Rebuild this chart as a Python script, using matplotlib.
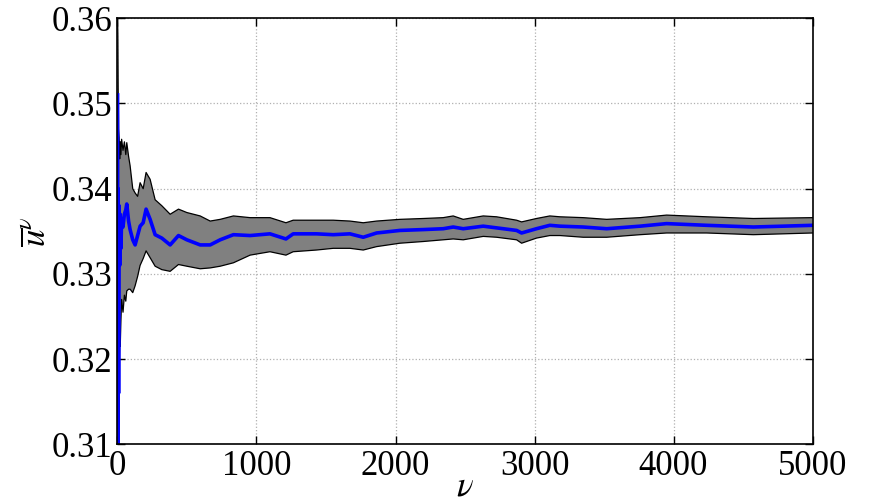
import matplotlib
matplotlib.use('Agg')
import matplotlib.pyplot as plt

nu = [1, 3, 5, 8, 12, 16, 20, 25, 30, 40, 50, 60, 67, 80, 91, 110, 127, 145,
      163, 185, 206, 235, 271, 319, 379, 439, 499, 595, 667, 739, 834, 954,
      1097, 1212, 1264, 1432, 1552, 1672, 1768, 1864, 2032, 2200, 2343, 2415,
      2487, 2631, 2727, 2871, 2907, 3014, 3110, 3183, 3350, 3519, 3759, 3950,
      4238, 4574, 5000]

# running mean
u_mean = [0.3510, 0.3050, 0.3400, 0.3160, 0.3380, 0.3310, 0.3370, 0.3330,
          0.3365, 0.3355, 0.3370, 0.3375, 0.3382, 0.3362, 0.3352, 0.3340,
          0.3334, 0.3345, 0.3356, 0.3360, 0.3376, 0.3364, 0.3346, 0.3342,
          0.3334, 0.3345, 0.3340, 0.3334, 0.3334, 0.3340, 0.3346, 0.3345,
          0.3347, 0.3341, 0.3347, 0.3347, 0.3346, 0.3347, 0.3343, 0.3348,
          0.3351, 0.3352, 0.3353, 0.3355, 0.3353, 0.3356, 0.3354, 0.3351,
          0.3348, 0.3353, 0.3357, 0.3356, 0.3355, 0.3353, 0.3356, 0.3359,
          0.3357, 0.3355, 0.3357]

# upper / lower confidence bounds
u_upper = [0.3600, 0.3580, 0.3520, 0.3470, 0.3460, 0.3435, 0.3455, 0.3440,
           0.3458, 0.3445, 0.3455, 0.3440, 0.3454, 0.3438, 0.3427, 0.3400,
           0.3395, 0.3391, 0.3407, 0.3400, 0.3419, 0.3411, 0.3387, 0.3380,
           0.3370, 0.3376, 0.3372, 0.3368, 0.3362, 0.3364, 0.3368, 0.3366,
           0.3366, 0.3360, 0.3363, 0.3363, 0.3363, 0.3362, 0.3360, 0.3362,
           0.3364, 0.3365, 0.3366, 0.3368, 0.3364, 0.3368, 0.3367, 0.3363,
           0.3361, 0.3365, 0.3368, 0.3367, 0.3366, 0.3364, 0.3366, 0.3369,
           0.3367, 0.3365, 0.3366]

u_lower = [0.3000, 0.3000, 0.3050, 0.3120, 0.3186, 0.3225, 0.3215, 0.3245,
           0.3270, 0.3255, 0.3275, 0.3268, 0.3280, 0.3282, 0.3282, 0.3278,
           0.3286, 0.3297, 0.3310, 0.3318, 0.3327, 0.3319, 0.3309, 0.3305,
           0.3303, 0.3311, 0.3309, 0.3306, 0.3307, 0.3309, 0.3313, 0.3322,
           0.3326, 0.3322, 0.3326, 0.3328, 0.3330, 0.3330, 0.3328, 0.3332,
           0.3336, 0.3338, 0.3340, 0.3341, 0.3340, 0.3344, 0.3343, 0.3340,
           0.3336, 0.3342, 0.3345, 0.3345, 0.3343, 0.3343, 0.3346, 0.3348,
           0.3348, 0.3346, 0.3348]

x_ticks = [0, 1000, 2000, 3000, 4000, 5000]
y_ticks = [0.31, 0.32, 0.33, 0.34, 0.35, 0.36]

plt.rcParams['font.family'] = ['Liberation Serif', 'DejaVu Serif']
plt.rcParams['mathtext.fontset'] = 'stix'

fig = plt.figure(figsize=(8.7, 5.03), dpi=100)
ax = fig.add_axes([0.135, 0.1167, 0.799, 0.847])

ax.fill_between(nu, u_lower, u_upper, color='#808080', linewidth=0, zorder=2)
ax.plot(nu, u_upper, color='black', linewidth=0.9, zorder=3)
ax.plot(nu, u_lower, color='black', linewidth=0.9, zorder=3)
ax.plot(nu, u_mean, color='#0000ff', linewidth=2.6, zorder=4)

ax.set_xlim(0, 5000)
ax.set_ylim(0.31, 0.36)
ax.set_xticks(x_ticks)
ax.set_yticks(y_ticks)
ax.set_xticklabels([str(t) for t in x_ticks])
ax.set_yticklabels(['%.2f' % t for t in y_ticks])

ax.grid(True, linestyle=':', color='#b0b0b0', linewidth=0.9, zorder=0)
ax.set_axisbelow(True)
ax.tick_params(direction='in', length=6, width=1, top=True, right=True,
               labelsize=25, pad=4)
for s in ax.spines.values():
    s.set_linewidth(1.2)
    s.set_zorder(5)

ax.set_xlabel(r'$\nu$', fontsize=25, labelpad=-9)
ax.set_ylabel(r'$\overline{u}^{\nu}$', fontsize=25, labelpad=-2)

plt.savefig('out.png', dpi=100)
